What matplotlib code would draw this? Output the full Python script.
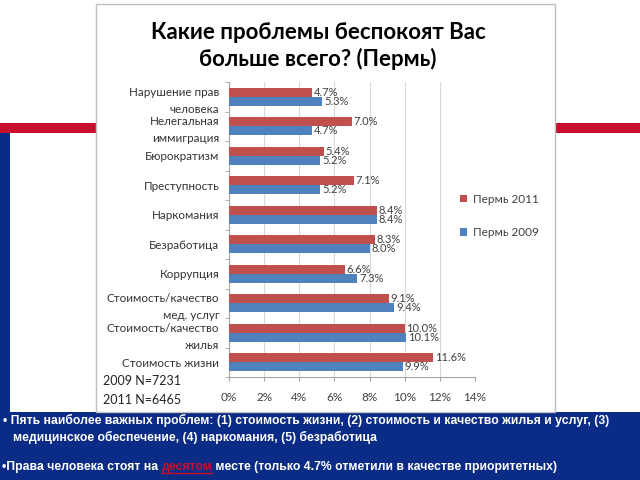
import matplotlib.pyplot as plt
import matplotlib.patches as mpatches
import numpy as np

# Data (top to bottom as in the chart)
categories = ["Нарушение прав\nчеловека", "Нелегальная\nиммиграция", "Бюрократизм",
              "Преступность", "Наркомания", "Безработица", "Коррупция",
              "Стоимость/качество\nмед. услуг", "Стоимость/качество\nжилья", "Стоимость жизни"]
perm_2011 = [4.7, 7.0, 5.4, 7.1, 8.4, 8.3, 6.6, 9.1, 10.0, 11.6]
perm_2009 = [5.3, 4.7, 5.2, 5.2, 8.4, 8.0, 7.3, 9.4, 10.1, 9.9]
series_names = ["Пермь 2011", "Пермь 2009"]
x_ticks = [0, 2, 4, 6, 8, 10, 12, 14]
title = "Какие проблемы беспокоят Вас\nбольше всего? (Пермь)"
sample_notes = ["2009 N=7231", "2011 N=6465"]

RED = "#C0504D"
BLUE = "#4F81BD"
NAVY = "#0B2C86"
CRIMSON = "#C8102E"
W, H = 640, 480

plt.rcParams['font.family'] = ['Lato', 'DejaVu Sans']

fig = plt.figure(figsize=(6.4, 4.8), dpi=100)
fig.patch.set_facecolor("white")


def px_box(x0, y0, x1, y1, **kw):
    # rectangle given in pixel coords (origin top-left)
    r = mpatches.Rectangle((x0 / W, 1 - y1 / H), (x1 - x0) / W, (y1 - y0) / H,
                           transform=fig.transFigure, **kw)
    fig.patches.append(r)


# slide decoration
px_box(0, 123, 640, 133, facecolor=CRIMSON, edgecolor="none", zorder=0)
px_box(0, 133, 10, 413, facecolor=NAVY, edgecolor="none", zorder=0)
px_box(0, 412, 640, 480, facecolor=NAVY, edgecolor="none", zorder=0)
px_box(96, 4, 555, 412, facecolor="white", edgecolor="#BFBFBF", linewidth=1.0, zorder=1)

# chart axes
ax = fig.add_axes([229 / W, 1 - 377 / H, 246 / W, 295 / H])
ax.set_zorder(2)
ax.patch.set_alpha(0)

n = len(categories)
y = np.arange(n)
h = 0.31
bars_a = ax.barh(y - h / 2, perm_2011, height=h, color=RED, label=series_names[0], zorder=3)
bars_b = ax.barh(y + h / 2, perm_2009, height=h, color=BLUE, label=series_names[1], zorder=3)

for yi, v in zip(y, perm_2011):
    ax.text(v + 0.1, yi - h / 2, f"{v:.1f}%", va="center", ha="left",
            fontsize=8, color="#404040", zorder=4)
for yi, v in zip(y, perm_2009):
    ax.text(v + 0.1, yi + h / 2, f"{v:.1f}%", va="center", ha="left",
            fontsize=8, color="#404040", zorder=4)

ax.set_xlim(0, 14)
ax.set_ylim(n - 0.5, -0.5)
ax.set_xticks(x_ticks)
ax.set_xticklabels([f"{t}%" for t in x_ticks], fontsize=8.5, color="#404040")
ax.set_yticks(y)
ax.set_yticklabels(categories, fontsize=8.4, color="#333333", linespacing=1.65)
ax.set_yticks(np.arange(-0.5, n), minor=True)
ax.tick_params(axis="y", which="major", length=0, pad=7)
ax.tick_params(axis="y", which="minor", length=3, color="#A6A6A6", direction="out")
ax.tick_params(axis="x", length=3, color="#A6A6A6", pad=8)
ax.grid(axis="x", color="#D9D9D9", linewidth=0.8, zorder=0)
for s in ["top", "right"]:
    ax.spines[s].set_visible(False)
for s in ["left", "bottom"]:
    ax.spines[s].set_color("#A6A6A6")
    ax.spines[s].set_linewidth(0.8)

leg = fig.legend(handles=[bars_a, bars_b], loc="upper left",
                 bbox_to_anchor=(449 / W, 1 - 183 / H), frameon=False, fontsize=8.5,
                 handlelength=0.6, handleheight=0.6, handletextpad=0.5, labelspacing=1.9)
for t in leg.get_texts():
    t.set_color("#404040")

fig.text(318 / W, 1 - 46 / H, title, ha="center", va="center", fontsize=16,
         fontweight="bold", color="black", linespacing=1.3)
fig.text(103 / W, 1 - 381 / H, sample_notes[0], ha="left", va="center", fontsize=9, color="#222222")
fig.text(103 / W, 1 - 400 / H, sample_notes[1], ha="left", va="center", fontsize=9, color="#222222")

# bottom notes
note_kw = dict(fontsize=8.8, fontweight="bold", color="white", family=["Liberation Sans", "DejaVu Sans"],
               va="center", ha="left")
fig.text(3 / W, 1 - 420 / H, "• Пять наиболее важных проблем: (1) стоимость жизни, (2) стоимость и качество жилья и услуг, (3)", **note_kw)
fig.text(13 / W, 1 - 437 / H, "медицинское обеспечение, (4) наркомания, (5) безработица", **note_kw)

renderer = fig.canvas.get_renderer()
parts = [("•Права человека стоят на ", "white", False), ("десятом", CRIMSON, True),
         (" месте (только 4.7% отметили в качестве приоритетных)", "white", False)]
xpos = 2
for txt, col, ul in parts:
    kw = dict(note_kw)
    kw["color"] = col
    t = fig.text(xpos / W, 1 - 467 / H, txt, **kw)
    bb = t.get_window_extent(renderer)
    if ul:
        fig.add_artist(plt.Line2D([bb.x0 / W, bb.x1 / W], [1 - 473 / H, 1 - 473 / H],
                                  transform=fig.transFigure, color=col, linewidth=1))
    xpos += bb.width

fig.savefig("out.png", dpi=100)
